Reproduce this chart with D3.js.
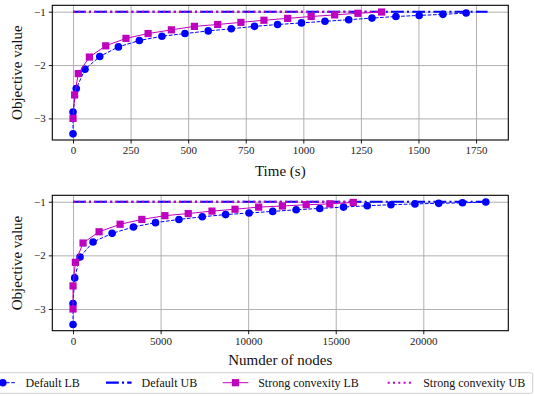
<!DOCTYPE html>
<html>
<head>
<meta charset="utf-8">
<script src="https://cdn.jsdelivr.net/npm/d3@7"></script>
<style>
  html, body { margin: 0; padding: 0; background: #fff; }
  svg, svg text { font-family: "Liberation Serif", "DejaVu Serif", serif; }
</style>
</head>
<body>
<svg id="chart" width="535" height="396"></svg>
<script>
// Solver progress: lower / upper bounds against wall time and explored nodes
const timeDefault = [0, 0, 14, 52, 116, 197, 288, 386, 486, 587, 687, 788, 888, 992, 1094, 1197, 1298, 1402, 1503, 1606, 1707];
const lbDefaultByTime = [-3.29, -2.88, -2.44, -2.08, -1.84, -1.66, -1.54, -1.46, -1.41, -1.36, -1.32, -1.275, -1.24, -1.21, -1.18, -1.15, -1.12, -1.09, -1.07, -1.05, -1.025];
const timeStrong = [0, 7, 23, 71, 142, 230, 326, 427, 527, 628, 729, 829, 932, 1034, 1136, 1237, 1340];
const lbStrongByTime = [-3.0, -2.56, -2.16, -1.85, -1.64, -1.50, -1.41, -1.34, -1.275, -1.24, -1.20, -1.16, -1.125, -1.09, -1.06, -1.03, -1.006];

const nodesDefault = [0, 0, 95, 400, 1144, 2231, 3450, 4710, 6047, 7380, 8713, 10050, 11403, 12740, 14090, 15446, 16800, 18152, 19525, 20880, 22237, 23570];
const lbDefaultByNodes = [-3.29, -2.90, -2.42, -2.03, -1.75, -1.59, -1.47, -1.39, -1.33, -1.28, -1.24, -1.21, -1.18, -1.15, -1.125, -1.10, -1.075, -1.056, -1.04, -1.03, -1.02, -1.006];
const nodesStrong = [0, 0, 133, 572, 1487, 2689, 3930, 5246, 6579, 7935, 9250, 10600, 11957, 13312, 14662, 16001];
const lbStrongByNodes = [-3.0, -2.57, -2.13, -1.77, -1.56, -1.42, -1.33, -1.26, -1.22, -1.175, -1.14, -1.10, -1.08, -1.056, -1.04, -1.013];

// Upper bounds stay at the incumbent value over the run
const ubValue = -1;
const ubDefaultTimeSpan = [0, 1800];
const ubStrongTimeSpan = [0, 1340];
const ubDefaultNodeSpan = [0, 23670];
const ubStrongNodeSpan = [0, 16001];

const timeTicks = [0, 250, 500, 750, 1000, 1250, 1500, 1750];
const nodeTicks = [0, 5000, 10000, 15000, 20000];
const yTicks = [-3, -2, -1];

const seriesNames = ["Default LB", "Default UB", "Strong convexity LB", "Strong convexity UB"];

const BLUE = "#0000ff", MAG = "#bf00bf", GRID = "#b0b0b0";
const FONT = "'Liberation Serif', 'DejaVu Serif', serif";
const svg = d3.select("#chart");

function panel(opts) {
  const { top, bottom, left, right, xTicks, xLabel, labelY, series } = opts;
  const g = svg.append("g");
  const xMax = d3.max(series.flatMap(s => s.x));
  const x = d3.scaleLinear().domain([-0.05 * xMax, 1.05 * xMax]).range([left, right]);
  const y = d3.scaleLinear().domain([-3.405, -0.88]).range([bottom, top]);

  // grid
  g.append("g").attr("transform", `translate(0,${bottom})`)
    .call(d3.axisBottom(x).tickValues(xTicks).tickSize(-(bottom - top)).tickFormat(""))
    .call(a => a.select(".domain").remove())
    .call(a => a.selectAll("line").attr("stroke", GRID).attr("stroke-width", 1));
  g.append("g").attr("transform", `translate(${left},0)`)
    .call(d3.axisLeft(y).tickValues(yTicks).tickSize(-(right - left)).tickFormat(""))
    .call(a => a.select(".domain").remove())
    .call(a => a.selectAll("line").attr("stroke", GRID).attr("stroke-width", 1));

  const clip = "clip" + Math.round(top);
  svg.append("clipPath").attr("id", clip).append("rect")
    .attr("x", left).attr("y", top).attr("width", right - left).attr("height", bottom - top);
  const plot = g.append("g").attr("clip-path", `url(#${clip})`);

  series.forEach(s => {
    const pts = s.x.map((v, i) => [x(v), y(s.y[i])]);
    plot.append("path").attr("d", d3.line()(pts))
      .attr("fill", "none").attr("stroke", s.color).attr("stroke-width", s.width)
      .attr("stroke-dasharray", s.dash || null);
    if (s.marker === "circle") {
      plot.selectAll(null).data(pts).join("circle")
        .attr("cx", d => d[0]).attr("cy", d => d[1]).attr("r", 3.8).attr("fill", s.color);
    } else if (s.marker === "square") {
      plot.selectAll(null).data(pts).join("rect")
        .attr("x", d => d[0] - 3.6).attr("y", d => d[1] - 3.6)
        .attr("width", 7.2).attr("height", 7.2).attr("fill", s.color);
    }
  });

  // axes
  const xa = g.append("g").attr("transform", `translate(0,${bottom})`)
    .call(d3.axisBottom(x).tickValues(xTicks).tickSize(3.5).tickPadding(3).tickFormat(d3.format("d")));
  const ya = g.append("g").attr("transform", `translate(${left},0)`)
    .call(d3.axisLeft(y).tickValues(yTicks).tickSize(3.5).tickPadding(3).tickFormat(d3.format("d")));
  [xa, ya].forEach(a => {
    a.attr("font-family", FONT).attr("font-size", 11);
    a.select(".domain").remove();
    a.selectAll("line").attr("stroke", "#000").attr("stroke-width", 0.9);
    a.selectAll("text").attr("fill", "#222").style("font-size", "11px").style("font-family", FONT);
  });

  g.append("rect").attr("x", left).attr("y", top).attr("width", right - left).attr("height", bottom - top)
    .attr("fill", "none").attr("stroke", "#000").attr("stroke-width", 1.1);

  g.append("text").attr("x", (left + right) / 2).attr("y", labelY)
    .attr("text-anchor", "middle").style("font-size", "15px").style("font-family", FONT)
    .attr("fill", "#111").text(xLabel);
  g.append("text").attr("transform", `translate(22,${(top + bottom) / 2}) rotate(-90)`)
    .attr("text-anchor", "middle").style("font-size", "15px").style("font-family", FONT)
    .attr("fill", "#111").text("Objective value");
}

function seriesFor(xd, lbd, xs, lbs, ubSpanD, ubSpanS) {
  return [
    { x: xd, y: lbd, color: BLUE, width: 1, dash: "3.7,1.6", marker: "circle" },
    { x: ubSpanD, y: ubSpanD.map(() => ubValue), color: BLUE, width: 2, dash: "12.8,3.2,2,3.2" },
    { x: xs, y: lbs, color: MAG, width: 1, marker: "square" },
    { x: ubSpanS, y: ubSpanS.map(() => ubValue), color: MAG, width: 2, dash: "2,3.3" }
  ];
}

panel({ top: 5.3, bottom: 140, left: 52.3, right: 508.3, xTicks: timeTicks, xLabel: "Time (s)", labelY: 176,
  series: seriesFor(timeDefault, lbDefaultByTime, timeStrong, lbStrongByTime, ubDefaultTimeSpan, ubStrongTimeSpan) });
panel({ top: 195.3, bottom: 330.7, left: 52.3, right: 508.3, xTicks: nodeTicks, xLabel: "Numder of nodes", labelY: 365,
  series: seriesFor(nodesDefault, lbDefaultByNodes, nodesStrong, lbStrongByNodes, ubDefaultNodeSpan, ubStrongNodeSpan) });

// legend
const lg = svg.append("g");
lg.append("rect").attr("x", -20).attr("y", 372.7).attr("width", 552.7).attr("height", 20.6)
  .attr("rx", 2).attr("fill", "#fff").attr("stroke", "#d0d0d0").attr("stroke-width", 1);
const legendX = [-10, 106, 222.7, 387.7];
const legendStyle = [
  { color: BLUE, width: 1, dash: "3.7,1.6", marker: "circle" },
  { color: BLUE, width: 2.2, dash: "12.8,3.2,2,3.2" },
  { color: MAG, width: 1, marker: "square" },
  { color: MAG, width: 2, dash: "2,3.3" }
];
const ly = 382.7;
seriesNames.forEach((name, i) => {
  const x0 = legendX[i], s = legendStyle[i];
  lg.append("line").attr("x1", x0).attr("x2", x0 + 25.6).attr("y1", ly).attr("y2", ly)
    .attr("stroke", s.color).attr("stroke-width", s.width).attr("stroke-dasharray", s.dash || null);
  if (s.marker === "circle") lg.append("circle").attr("cx", x0 + 12.8).attr("cy", ly).attr("r", 3.8).attr("fill", s.color);
  if (s.marker === "square") lg.append("rect").attr("x", x0 + 12.8 - 3.6).attr("y", ly - 3.6).attr("width", 7.2).attr("height", 7.2).attr("fill", s.color);
  lg.append("text").attr("x", x0 + 35.5).attr("y", ly + 4).style("font-size", "12px").style("font-family", FONT)
    .attr("fill", "#111").text(name);
});
</script>
</body>
</html>
